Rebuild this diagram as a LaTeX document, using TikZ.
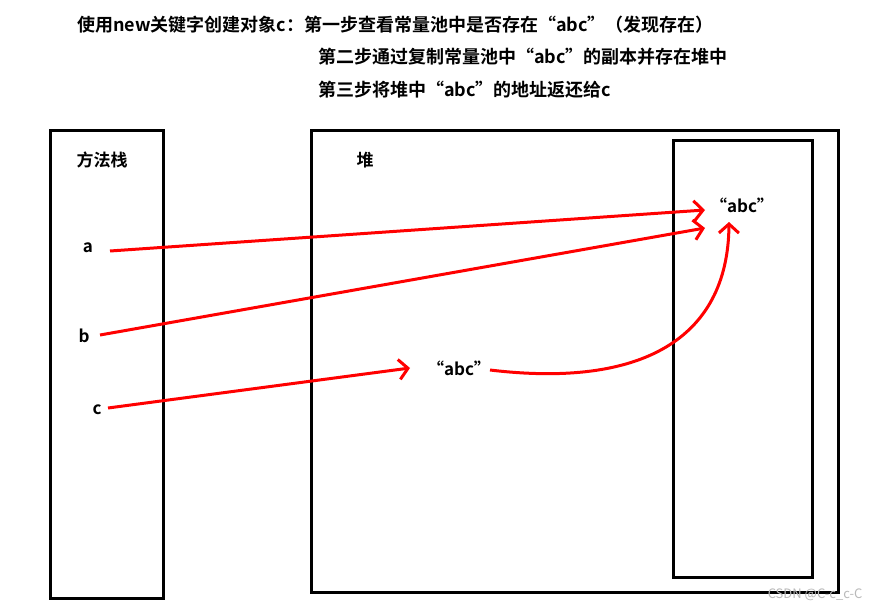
\documentclass[tikz,border=0pt]{standalone}
\usepackage{fontspec}
\setmainfont{Noto Sans CJK SC}[BoldFont={* Bold}]
\usetikzlibrary{arrows.meta}
\tikzset{box/.style={draw,line width=3pt},
arr/.style={draw=red,line width=3pt,-{Straight Barb[length=9pt,width=20pt,line width=3pt]}},
lab/.style={font=\bfseries\fontsize{17}{20}\selectfont,inner sep=0pt},
ttl/.style={font=\bfseries\fontsize{18}{20}\selectfont,inner sep=0pt}}
\begin{document}
\begin{tikzpicture}[x=1pt,y=-1pt]
\useasboundingbox (0,0) rectangle (870,610);
\fill[white] (0,0) rectangle (870,610);
\node[ttl,anchor=west] (t1) at (77,25) {使用new关键字创建对象c：第一步查看常量池中是否存在“abc”（发现存在）};
\node[ttl,anchor=west] (t2) at (318,57) {第二步通过复制常量池中“abc”的副本并存在堆中};
\node[ttl,anchor=west] (t3) at (318,90) {第三步将堆中“abc”的地址返还给c};
\draw[box] (50,130) rectangle (163,598);
\draw[box] (311,130) rectangle (838,592);
\draw[box] (673,140) rectangle (812,577);
\node[lab] (ff) at (102,160) {方法栈};
\node[lab] (dui) at (365,160) {堆};
\node[lab] (a) at (88,248) {a};
\node[lab] (b) at (84,336) {b};
\node[lab] (c) at (97,410) {c};
\node[lab] (s1) at (742,205) {“abc”};
\node[lab] (s2) at (459,368) {“abc”};
\node[font=\fontsize{13}{15}\selectfont,text=gray!55,anchor=east] (wm) at (866,595) {CSDN @C-c\_c-C};
\coordinate (a1) at (110,251); \coordinate (a2) at (705,210);
\coordinate (b1) at (100,335); \coordinate (b2) at (705,228);
\coordinate (c1) at (108,408); \coordinate (c2) at (410,368);
\coordinate (d1) at (490,370); \coordinate (d2) at (729,222);
\draw[arr] (a1) -- (a2);
\draw[arr] (b1) -- (b2);
\draw[arr] (c1) -- (c2);
\draw[arr] (d1) .. controls (640,388) and (728,340) .. (d2);
\end{tikzpicture}
\end{document}
